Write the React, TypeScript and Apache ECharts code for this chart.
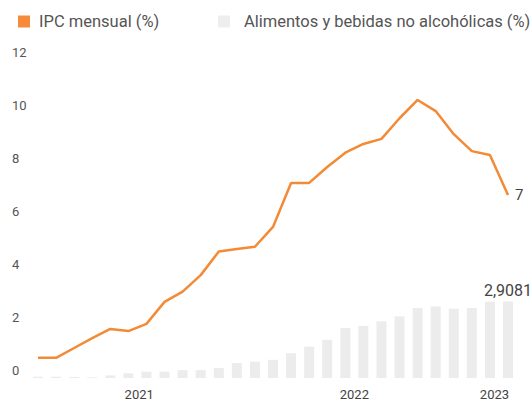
import React, { useEffect, useRef } from "react";
import * as echarts from "echarts";

const lineName = "IPC mensual (%)";
const barName = "Alimentos y bebidas no alcohólicas (%)";

// monthly values (27 months)
const ipcValues = [0.46, 0.46, 0.83, 1.2, 1.55, 1.47, 1.74, 2.57, 2.96, 3.58, 4.47, 4.57, 4.65, 5.4, 7.06, 7.06, 7.66, 8.2, 8.53, 8.72, 9.5, 10.19, 9.77, 8.9, 8.26, 8.11, 6.6];
const foodValues = [0.05, 0.05, 0.04, 0.03, 0.1, 0.18, 0.24, 0.24, 0.3, 0.3, 0.38, 0.57, 0.62, 0.69, 0.94, 1.19, 1.45, 1.9, 1.98, 2.15, 2.34, 2.66, 2.72, 2.63, 2.66, 2.9, 2.9081];

// x tick labels and their positions (in month index units)
const xTickPositions = [5.6, 17.5, 25.25];
const xTickLabels = ["2021", "2022", "2023"];

const yMin = 0;
const yMax = 12;
const yInterval = 2;

export default function App() {
  const ref = useRef<HTMLDivElement>(null);

  useEffect(() => {
    if (!ref.current) return;
    const chart = echarts.init(ref.current, undefined, { renderer: "svg" });
    const font = "Roboto, 'Noto Sans', sans-serif";

    const lineData = ipcValues.map((v, i) => [i, v]);
    const barData = foodValues.map((v, i) =>
      i === foodValues.length - 1
        ? {
            value: [i, v],
            label: {
              show: true,
              position: "top",
              distance: 3,
              formatter: () => String(v).replace(".", ","),
              fontSize: 16,
              color: "#444",
              fontFamily: font,
            },
          }
        : [i, v]
    );

    chart.setOption({
      animation: false,
      backgroundColor: "#ffffff",
      textStyle: { fontFamily: font },
      legend: [
        {
          data: [{ name: lineName, itemStyle: { color: "#f58b3b" } }],
          left: 13,
          top: 8,
          itemWidth: 12,
          itemHeight: 12,
          icon: "rect",
          textStyle: { fontSize: 16.5, color: "#555", padding: [0, 0, 0, 4] },
          selectedMode: false,
        },
        {
          data: [{ name: barName, itemStyle: { color: "#eeeeee" } }],
          left: 213,
          top: 8,
          itemWidth: 12,
          itemHeight: 12,
          icon: "rect",
          textStyle: { fontSize: 16.5, color: "#555", padding: [0, 0, 0, 9] },
          selectedMode: false,
        },
      ],
      grid: [
        { left: 38, right: 24, top: 52, bottom: 32 },
        { left: 38, right: 24, top: 62, bottom: 24 },
      ],
      xAxis: [
        {
          gridIndex: 0,
          type: "value",
          min: 0,
          max: ipcValues.length - 1,
          axisLine: { show: false },
          axisTick: { show: false },
          splitLine: { show: false },
          axisLabel: {
            customValues: xTickPositions,
            formatter: (val: number) => {
              const idx = xTickPositions.findIndex((p) => Math.abs(p - val) < 1e-6);
              return idx >= 0 ? xTickLabels[idx] : "";
            },
            margin: 18,
            fontSize: 13,
            color: "#444",
          },
        },
        {
          gridIndex: 1,
          type: "value",
          min: 0,
          max: foodValues.length - 1,
          show: false,
        },
      ],
      yAxis: [
        {
          gridIndex: 0,
          type: "value",
          min: yMin,
          max: yMax,
          interval: yInterval,
          axisLine: { show: false },
          axisTick: { show: false },
          splitLine: { show: false },
          axisLabel: {
            align: "left",
            margin: 26,
            fontSize: 13,
            color: "#555",
          },
        },
        {
          gridIndex: 1,
          type: "value",
          min: yMin,
          max: yMax,
          show: false,
        },
      ],
      series: [
        {
          name: barName,
          type: "bar",
          xAxisIndex: 1,
          yAxisIndex: 1,
          barWidth: 10,
          clip: false,
          itemStyle: { color: "#ececec" },
          data: barData,
          z: 1,
        },
        {
          name: lineName,
          type: "line",
          xAxisIndex: 0,
          yAxisIndex: 0,
          showSymbol: false,
          symbol: "none",
          clip: false,
          lineStyle: { color: "#f28a36", width: 2.5 },
          itemStyle: { color: "#f58b3b" },
          endLabel: {
            show: true,
            distance: 7,
            formatter: (p: any) => String(Math.round(p.value[1])),
            fontSize: 15,
            color: "#444",
            fontFamily: font,
          },
          data: lineData,
          z: 3,
        },
      ],
    });

    return () => chart.dispose();
  }, []);

  return (
    <div
      ref={ref}
      style={{ position: "fixed", left: 0, top: 0, width: 532, height: 402 }}
    />
  );
}
